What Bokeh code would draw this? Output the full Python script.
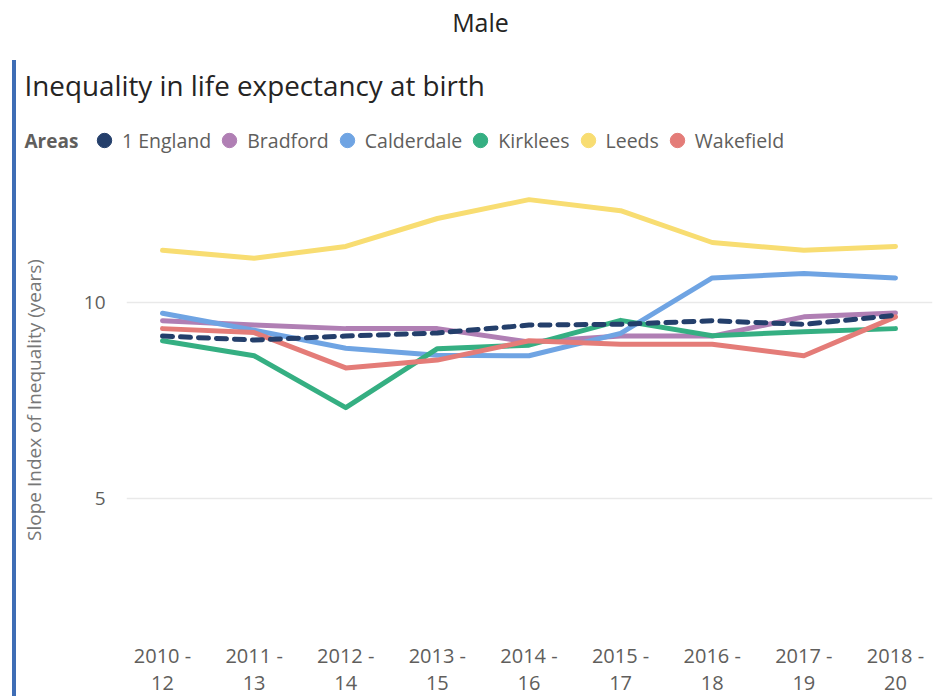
from bokeh.plotting import figure
from bokeh.layouts import row, column
from bokeh.models import (Range1d, FixedTicker, LinearAxis, Label, Legend,
                          LegendItem, Div, Spacer)
from bokeh.embed import file_html
from bokeh.resources import INLINE

# ---- data ----
period_start = ["2010 -", "2011 -", "2012 -", "2013 -", "2014 -", "2015 -", "2016 -", "2017 -", "2018 -"]
period_end = ["12", "13", "14", "15", "16", "17", "18", "19", "20"]
england = [9.14, 9.04, 9.14, 9.22, 9.42, 9.44, 9.53, 9.44, 9.67]
bradford = [9.53, 9.42, 9.33, 9.33, 8.99, 9.14, 9.14, 9.63, 9.73]
calderdale = [9.72, 9.29, 8.83, 8.65, 8.64, 9.21, 10.62, 10.73, 10.62]
kirklees = [9.02, 8.64, 7.32, 8.82, 8.91, 9.54, 9.15, 9.25, 9.33]
leeds = [11.32, 11.12, 11.42, 12.13, 12.61, 12.33, 11.52, 11.32, 11.42]
wakefield = [9.33, 9.23, 8.33, 8.53, 9.02, 8.93, 8.93, 8.64, 9.63]
series_names = ["1 England", "Bradford", "Calderdale", "Kirklees", "Leeds", "Wakefield"]
y_ticks = [5, 10]

series = [england, bradford, calderdale, kirklees, leeds, wakefield]
colors = ["#243F6B", "#B07FB4", "#6FA4E3", "#35AF82", "#F8DD72", "#E47C78"]
FONT = "Open Sans"
GREY = "#605E5C"
xs = list(range(len(period_start)))


def no_align(fig):
    if "frame_align" in fig.properties():
        fig.frame_align = False


# ---------------- header (titles + legend) ----------------
head = figure(width=928, height=164, output_backend="svg", toolbar_location=None,
              x_range=Range1d(16, 944), y_range=Range1d(164, 0),
              x_axis_type=None, y_axis_type=None,
              min_border=0, min_border_left=0, min_border_right=0,
              min_border_top=0, min_border_bottom=0)
no_align(head)
head.outline_line_color = None
head.xgrid.visible = False
head.ygrid.visible = False

head.add_layout(Label(x=480, y=21, text="Male", text_align="center",
                      text_baseline="middle", text_font=FONT,
                      text_font_size="25px", text_color="#252423"))
head.add_layout(Label(x=24, y=84, text="Inequality in life expectancy at birth",
                      text_align="left", text_baseline="middle", text_font=FONT,
                      text_font_size="27.8px", text_color="#252423"))
head.add_layout(Label(x=24, y=140, text="Areas", text_align="left",
                      text_baseline="middle", text_font=FONT,
                      text_font_size="19px", text_font_style="bold",
                      text_color=GREY))

legend_items = []
for name, vals, c in zip(series_names, series, colors):
    # points lie outside the header's visible range; used only for legend markers
    s = head.scatter(xs, vals, marker="circle", size=1, color=c)
    legend_items.append(LegendItem(label=name, renderers=[s]))

legend = Legend(items=legend_items, orientation="horizontal", location=(70, 4),
                glyph_width=36, glyph_height=40, label_standoff=0, spacing=0,
                padding=0, margin=0, border_line_color=None,
                background_fill_alpha=0, label_text_font=FONT,
                label_text_font_size="19.5px", label_text_color=GREY)
head.add_layout(legend, "center")

# ---------------- main chart ----------------
p = figure(width=928, height=532, output_backend="svg", toolbar_location=None,
           x_range=Range1d(-0.393, 8.404), y_range=Range1d(1.73, 13.30),
           min_border_left=110, min_border_right=12, min_border_top=8,
           min_border_bottom=69)
no_align(p)
p.outline_line_color = None

p.xgrid.visible = False
p.ygrid.ticker = FixedTicker(ticks=y_ticks)
p.ygrid.grid_line_color = "#E9E9E9"
p.ygrid.grid_line_width = 1.5

p.yaxis.ticker = FixedTicker(ticks=y_ticks)
p.yaxis.axis_line_color = None
p.yaxis.major_tick_line_color = None
p.yaxis.minor_tick_line_color = None
p.yaxis.major_tick_out = 0
p.yaxis.major_tick_in = 0
p.yaxis.minor_tick_out = 0
p.yaxis.major_label_standoff = 21
p.yaxis.major_label_text_font = FONT
p.yaxis.major_label_text_font_size = "19px"
p.yaxis.major_label_text_color = GREY
p.yaxis.axis_label = "Slope Index of Inequality (years)"
p.yaxis.axis_label_text_font = FONT
p.yaxis.axis_label_text_font_style = "normal"
p.yaxis.axis_label_text_font_size = "19px"
p.yaxis.axis_label_text_color = "#777777"
p.yaxis.axis_label_standoff = 34


def style_x(ax, labels, standoff):
    ax.ticker = FixedTicker(ticks=xs)
    ax.major_label_overrides = {i: labels[i] for i in xs}
    ax.axis_line_color = None
    ax.major_tick_line_color = None
    ax.minor_tick_line_color = None
    ax.major_tick_out = 0
    ax.major_tick_in = 0
    ax.minor_tick_out = 0
    ax.major_label_standoff = standoff
    ax.major_label_text_font = FONT
    ax.major_label_text_font_size = "20px"
    ax.major_label_text_color = GREY


style_x(p.xaxis[0], period_start, 14)
ax2 = LinearAxis()
style_x(ax2, period_end, 4)
p.add_layout(ax2, "below")

for name, vals, c in zip(series_names, series, colors):
    if name == "1 England":
        continue
    p.line(xs, vals, line_color=c, line_width=5, line_cap="round", line_join="round")
p.line(xs, england, line_color=colors[0], line_width=5, line_dash="10 8",
       line_cap="round", line_join="round")

# ---------------- left accent bar ----------------
bar = Div(text="", width=4, height=636,
          styles={"background-color": "#3E6DB5", "margin": "0", "padding": "0"})
left = column(Spacer(width=4, height=60), bar, spacing=0)
layout = row(Spacer(width=12, height=10), left, column(head, p, spacing=0), spacing=0)

open("out.html", "w").write(file_html(layout, INLINE))
